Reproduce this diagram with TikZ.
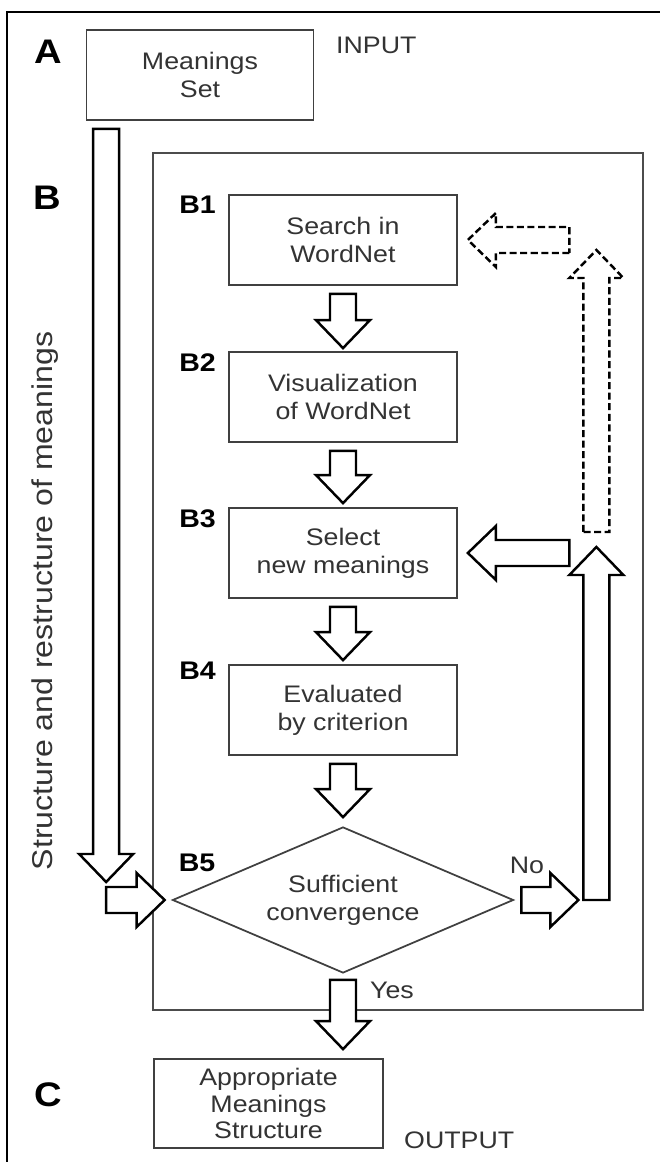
\documentclass[tikz,border=0pt]{standalone}
\usepackage{fontspec}
\setmainfont{Liberation Sans}[FakeStretch=1.12]
\usetikzlibrary{shapes.geometric,calc,positioning}

\tikzset{
  box/.style={draw=black!75,line width=1pt,rectangle,minimum width=4.56cm,minimum height=1.8cm,align=center,text=black!80,font=\fontsize{13.6}{16}\selectfont},
  txt/.style={text=black!80,font=\fontsize{13.6}{16}\selectfont},
  lbl/.style={inner sep=0pt,font=\fontsize{14.5}{17}\selectfont\bfseries},
  biglbl/.style={font=\fontsize{19.4}{22}\selectfont\bfseries},
  blockarr/.style={draw=black,line width=1.4pt,fill=white,line join=miter},
  dasharr/.style={line width=1.4pt,dash pattern=on 4pt off 2pt},
}

% block arrow: from, start gap, to, end gap
\newcommand{\barrow}[5][]{%
  \coordinate (s) at ($(#2)!#3!(#4)$);
  \coordinate (t) at ($(#4)!#5!(#2)$);
  \coordinate (h) at ($(t)!0.56cm!(s)$);
  \draw[blockarr,#1] ($(s)!0.26cm!90:(t)$) -- ($(h)!0.26cm!-90:(s)$) -- ($(h)!0.54cm!-90:(s)$) -- (t)
    -- ($(h)!0.54cm!90:(s)$) -- ($(h)!0.26cm!90:(s)$) -- ($(s)!0.26cm!-90:(t)$) -- cycle;
}

\begin{document}
\begin{tikzpicture}
\useasboundingbox (0,0) rectangle (13.2,23.24);
\draw[line width=1.3pt] (0.14,0) -- (0.14,23.0) -- (13.2,23.0);
% input
\node[box,minimum width=4.54cm] (a) at (4.0,21.74) {Meanings\\Set};
\node[biglbl] (la) at (0.96,22.2) {A};
\node[txt,anchor=west] (in) at (6.6,22.34) {INPUT};
% B part
\draw[draw=black!70,line width=1pt] (3.06,3.04) rectangle (12.86,20.18);
\node[biglbl] (lb) at (0.94,19.28) {B};
\node[txt,rotate=90,font=\fontsize{16.3}{19}\selectfont] (lside) at (0.9,11.22) {Structure and restructure of meanings};
\node[box] (b1) at (6.86,18.44) {Search in\\WordNet};
\node[box] (b2) at (6.86,15.3) {Visualization\\of WordNet};
\node[box] (b3) at (6.86,12.18) {Select\\new meanings};
\node[box] (b4) at (6.86,9.04) {Evaluated\\by criterion};
\node[box,diamond,aspect=2.34,minimum width=6.82cm,minimum height=2.92cm,inner sep=0pt] (d) at (6.86,5.24) {Sufficient\\convergence};
\node[lbl,anchor=north east] (lb1) at ($(b1.north west)+(-0.24,-0.04)$) {B1};
\node[lbl,anchor=north east] (lb2) at ($(b2.north west)+(-0.24,-0.04)$) {B2};
\node[lbl,anchor=north east] (lb3) at ($(b3.north west)+(-0.24,-0.04)$) {B3};
\node[lbl,anchor=north east] (lb4) at ($(b4.north west)+(-0.24,0.04)$) {B4};
\node[lbl] (lb5) at (3.94,5.98) {B5};
\node[txt] (no) at (10.54,5.94) {No};
\node[txt] (yes) at (7.84,3.44) {Yes};
% output
\node[box,minimum width=4.58cm,minimum height=1.78cm,inner sep=1pt,font=\fontsize{13.6}{15}\selectfont] (c) at (5.37,1.17) {Appropriate\\Meanings\\Structure};
\node[biglbl] (lc) at (0.96,1.34) {C};
\node[txt,anchor=west] (out) at (7.96,0.44) {OUTPUT};

% arrows
\barrow{b1.south}{0.16cm}{b2.north}{0.06cm}
\barrow{b2.south}{0.16cm}{b3.north}{0.08cm}
\barrow{b3.south}{0.16cm}{b4.north}{0.08cm}
\barrow{b4.south}{0.16cm}{d.north}{0.18cm}
\coordinate (atop) at ($(a.south west)+(0.41,-0.16)$);
\coordinate (turn) at (atop |- d.west);
\barrow{atop}{0cm}{turn}{0.36cm}
\barrow{turn}{0cm}{d.west}{0.14cm}
\coordinate (rb) at ($(d.east)+(1.64,0)$);
\coordinate (rc) at (rb |- b3.east);
\coordinate (rd) at (rb |- b1.east);
\barrow{d.east}{0.14cm}{rb}{0.36cm}
\barrow{rb}{0cm}{rc}{-0.12cm}
\barrow{rc}{0.54cm}{b3.east}{0.2cm}
\barrow[dasharr]{rc}{0.42cm}{rd}{0.2cm}
\barrow[dasharr]{rd}{0.54cm}{b1.east}{0.2cm}
\coordinate (cy) at (d.south |- c.north);
\barrow{d.south}{0.12cm}{cy}{0.18cm}
\end{tikzpicture}
\end{document}
